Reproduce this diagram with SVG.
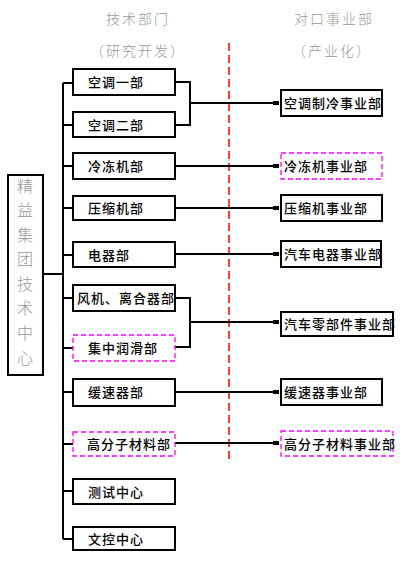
<svg xmlns="http://www.w3.org/2000/svg" width="400" height="563" viewBox="0 0 400 563">
<style>
.box{fill:#fff;stroke:#000;stroke-width:2}
.dbox{fill:#fff;stroke:#f0f;stroke-width:1.3;stroke-dasharray:5,3}
.t{font-family:"Noto Sans CJK SC","Liberation Sans",sans-serif;font-size:13px;fill:#000;letter-spacing:1px;font-weight:500}
.h{font-family:"Noto Sans CJK SC","Liberation Sans",sans-serif;font-size:14px;fill:#999;text-anchor:middle;letter-spacing:2px;font-weight:300}
.v{font-family:"Noto Sans CJK SC","Liberation Sans",sans-serif;font-size:16px;fill:#999;text-anchor:middle;font-weight:300}
.c{fill:none;stroke:#000;stroke-width:2}
</style>
<defs>
<marker id="m" markerWidth="6" markerHeight="4" refX="6" refY="2" orient="auto" markerUnits="userSpaceOnUse">
<rect x="0" y="0" width="6" height="4" fill="#000"/>
</marker>
</defs>
<rect width="400" height="563" fill="#fff"/>
<g id="headers">
<text class="h" x="138" y="24">技术部门</text>
<text class="h" x="138" y="56" letter-spacing="0">（研究开发）</text>
<text class="h" x="334" y="24">对口事业部</text>
<text class="h" x="332" y="56" letter-spacing="0">（产业化）</text>
</g>
<line id="divider" x1="229" y1="43" x2="229" y2="462" stroke="#f00" stroke-width="1.5" stroke-dasharray="8,4"/>
<g id="connectors">
<path class="c" d="M43 274H63M63 83V539"/>
<path class="c" d="M63 83H73M63 125H73M63 166H73M63 208H73M63 255H73M63 298H73M63 348H73M63 392H73M63 444H73M63 491H73M63 539H73"/>
<path class="c" d="M175 82H190V125H175M190 103H279" marker-end="url(#m)"/>
<path class="c" d="M175 166H279" marker-end="url(#m)"/>
<path class="c" d="M175 208H279" marker-end="url(#m)"/>
<path class="c" d="M175 254H279" marker-end="url(#m)"/>
<path class="c" d="M175 298H190V347H175M190 322H279" marker-end="url(#m)"/>
<path class="c" d="M175 392H279" marker-end="url(#m)"/>
<path class="c" d="M175 443H279" marker-end="url(#m)"/>
</g>
<g id="center"><rect class="box" x="8" y="175" width="35" height="200"/>
<text class="v" x="25" y="192">精</text><text class="v" x="25" y="216">益</text><text class="v" x="25" y="241">集</text><text class="v" x="25" y="265">团</text><text class="v" x="25" y="290">技</text><text class="v" x="25" y="314">术</text><text class="v" x="25" y="339">中</text><text class="v" x="25" y="364">心</text></g>
<g id="n1"><rect class="box" x="73" y="69" width="102" height="26"/><text class="t" x="88" y="87">空调一部</text></g>
<g id="n2"><rect class="box" x="73" y="112" width="102" height="25"/><text class="t" x="88" y="130">空调二部</text></g>
<g id="n3"><rect class="box" x="73" y="153" width="102" height="26"/><text class="t" x="88" y="171">冷冻机部</text></g>
<g id="n4"><rect class="box" x="73" y="196" width="102" height="24"/><text class="t" x="88" y="213">压缩机部</text></g>
<g id="n5"><rect class="box" x="73" y="242" width="102" height="25"/><text class="t" x="88" y="260">电器部</text></g>
<g id="n6"><rect class="box" x="73" y="285" width="102" height="26"/><text class="t" x="77" y="303">风机、离合器部</text></g>
<g id="n7"><rect class="dbox" x="73" y="335" width="102" height="26"/><text class="t" x="88" y="353">集中润滑部</text></g>
<g id="n8"><rect class="box" x="73" y="379" width="102" height="27"/><text class="t" x="88" y="397">缓速器部</text></g>
<g id="n9"><rect class="dbox" x="73" y="432" width="102" height="24"/><text class="t" x="87" y="449">高分子材料部</text></g>
<g id="n10"><rect class="box" x="73" y="479" width="102" height="25"/><text class="t" x="88" y="497">测试中心</text></g>
<g id="n11"><rect class="box" x="73" y="527" width="102" height="23"/><text class="t" x="88" y="544">文控中心</text></g>
<g id="r1"><rect class="box" x="281" y="90" width="101" height="26"/><text class="t" x="284" y="108">空调制冷事业部</text></g>
<g id="r2"><rect class="dbox" x="281" y="153" width="101" height="26"/><text class="t" x="284" y="171">冷冻机事业部</text></g>
<g id="r3"><rect class="box" x="281" y="195" width="101" height="26"/><text class="t" x="284" y="213">压缩机事业部</text></g>
<g id="r4"><rect class="box" x="281" y="241" width="100" height="26"/><text class="t" x="284" y="259">汽车电器事业部</text></g>
<g id="r5"><rect class="box" x="281" y="312" width="112" height="24"/><text class="t" x="284" y="329">汽车零部件事业部</text></g>
<g id="r6"><rect class="box" x="281" y="379" width="101" height="26"/><text class="t" x="284" y="397">缓速器事业部</text></g>
<g id="r7"><rect class="dbox" x="281" y="431" width="112" height="25"/><text class="t" x="284" y="449">高分子材料事业部</text></g>
</svg>
